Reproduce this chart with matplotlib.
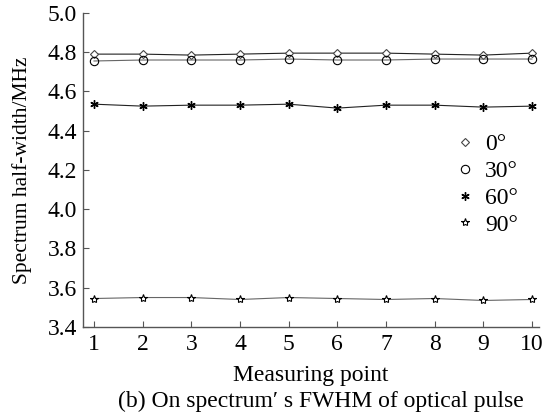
import matplotlib
matplotlib.use("Agg")
import matplotlib.pyplot as plt

plt.rcParams["font.family"] = ["Liberation Serif", "DejaVu Serif"]

# data
points = list(range(1, 11))
fwhm_0 = [4.79, 4.79, 4.785, 4.79, 4.795, 4.795, 4.795, 4.79, 4.785, 4.795]
fwhm_30 = [4.755, 4.76, 4.76, 4.76, 4.765, 4.76, 4.76, 4.765, 4.765, 4.765]
fwhm_60 = [4.535, 4.525, 4.53, 4.53, 4.535, 4.515, 4.53, 4.53, 4.52, 4.525]
fwhm_90 = [3.545, 3.55, 3.55, 3.54, 3.55, 3.545, 3.54, 3.545, 3.535, 3.54]
labels = ["0°", "30°", "60°", "90°"]

fig = plt.figure(figsize=(5.52, 4.16), dpi=100)
ax = fig.add_axes([0.150, 0.214, 0.826, 0.755])

ax.plot(points, fwhm_0, color="#222222", lw=0.8, marker="D", ms=4.5,
        mfc="white", mec="#444444", mew=0.8)
ax.plot(points, fwhm_30, color="#666666", lw=0.8, marker="o", ms=6,
        mfc="none", mec="black", mew=0.8)
ax.plot(points, fwhm_60, color="#222222", lw=0.8, marker=(6, 2, 0), ms=6,
        mec="black", mew=1.0)
ax.plot(points, fwhm_90, color="#666666", lw=0.8, marker="*", ms=6,
        mfc="white", mec="black", mew=0.8)

ax.set_xlim(0.77, 10.14)
ax.set_ylim(3.4, 5.0)
ax.set_xticks(points)
ax.set_yticks([3.4, 3.6, 3.8, 4.0, 4.2, 4.4, 4.6, 4.8, 5.0])
ax.set_yticklabels([f"{v:.1f}" for v in ax.get_yticks()])

for side in ["top", "right"]:
    ax.spines[side].set_visible(False)
for side in ["left", "bottom"]:
    ax.spines[side].set_color("#555555")
    ax.spines[side].set_linewidth(1.0)
ax.tick_params(direction="in", length=4, labelsize=17, color="#555555")
ax.tick_params(axis="y", pad=4)
ax.tick_params(axis="x", pad=5)

ax.set_xlabel("Measuring point", fontsize=17, labelpad=7)
ax.set_ylabel("Spectrum half-width/MHz", fontsize=15.5, labelpad=11)

# legend: markers only
handles = [
    plt.Line2D([], [], ls="none", marker="D", ms=4.5, mfc="white", mec="#444444", mew=0.8),
    plt.Line2D([], [], ls="none", marker="o", ms=6, mfc="none", mec="black", mew=0.8),
    plt.Line2D([], [], ls="none", marker=(6, 2, 0), ms=6, mec="black", mew=1.0),
    plt.Line2D([], [], ls="none", marker="*", ms=6, mfc="white", mec="black", mew=0.8),
]
fig.legend(handles, labels, loc="center left", bbox_to_anchor=(455.5 / 552, 0.556),
           frameon=False, fontsize=17, handlelength=0.8, handletextpad=0.45,
           labelspacing=0.22, borderpad=0, borderaxespad=0)

fig.text(0.5815, 0.022, "(b) On spectrum\u2032 s FWHM of optical pulse",
         ha="center", fontsize=17)

fig.savefig("out.png", dpi=100)
